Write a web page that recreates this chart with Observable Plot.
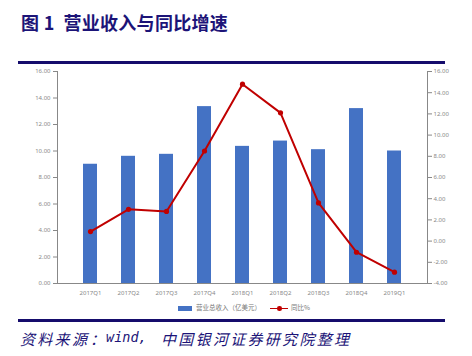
<!DOCTYPE html>
<html><head><meta charset="utf-8">
<script src="https://cdn.jsdelivr.net/npm/d3@7"></script>
<script src="https://cdn.jsdelivr.net/npm/@observablehq/plot@0.6"></script>
<style>
body{margin:0;background:#fff;}
#wrap{position:relative;width:472px;height:356px;overflow:hidden;background:#fff;font-family:"Noto Sans CJK SC","Noto Sans",sans-serif;}
#title{position:absolute;left:21px;top:9px;font-size:18px;font-weight:bold;color:#1c1478;letter-spacing:0.3px;white-space:nowrap;}
.hr{position:absolute;left:18px;width:427px;height:3px;background:#150c6c;}
#chart{position:absolute;left:0;top:62px;width:472px;}
#legend{position:absolute;top:302px;left:0;width:472px;height:12px;font-size:6.5px;color:#777;}
.cap{position:absolute;top:328px;font-size:15px;font-style:italic;color:#1c1478;white-space:nowrap;letter-spacing:2.3px;}
.cap.m{font-family:"DejaVu Sans Mono",monospace;font-size:13.5px;letter-spacing:0;top:329px;}
</style></head>
<body><div id="wrap">
<div id="title">图 1&nbsp; 营业收入与同比增速</div>
<div class="hr" style="top:61px"></div>
<div id="chart"></div>
<div id="legend">
  <div style="position:absolute;left:178px;top:4px;width:14px;height:5px;background:#4472C4"></div>
  <div style="position:absolute;left:196px;top:0px;white-space:nowrap">营业总收入（亿美元）</div>
  <div style="position:absolute;left:270px;top:5.5px;width:18px;height:1.6px;background:#C00000"></div>
  <div style="position:absolute;left:277px;top:4px;width:4.5px;height:4.5px;border-radius:50%;background:#C00000"></div>
  <div style="position:absolute;left:291px;top:0px;white-space:nowrap">同比%</div>
</div>
<div class="hr" style="top:319px"></div>
<div class="cap" style="left:20px">资料来源</div>
<div class="cap" style="left:90px;letter-spacing:0">：</div>
<div class="cap m" style="left:106px">wind,</div>
<div class="cap" style="left:161px">中国银河证券研究院整理</div>
</div>
<script>
const quarters = ["2017Q1","2017Q2","2017Q3","2017Q4","2018Q1","2018Q2","2018Q3","2018Q4","2019Q1"];
const revenue = [9.0, 9.6, 9.75, 13.35, 10.35, 10.75, 10.1, 13.2, 10.0];
const yoy = [0.9, 3.0, 2.8, 8.5, 14.8, 12.1, 3.6, -1.05, -2.93];
const leftTicks = [0,2,4,6,8,10,12,14,16];
const rightTicks = [-4,-2,0,2,4,6,8,10,12,14,16];

const data = quarters.map((q,i)=>({q, rev: revenue[i], yoy: yoy[i]}));
const toLeft = v => (v + 4) * 16 / 20;
const fromLeft = d => d * 20 / 16 - 4;
const gray = "#888";

const plot = Plot.plot({
  width: 472, height: 240,
  marginLeft: 57, marginRight: 45, marginTop: 9, marginBottom: 19,
  style: {fontFamily: "Noto Sans, sans-serif", background: "transparent"},
  x: {domain: quarters, padding: 0.63, axis: null},
  y: {domain: [0,16], axis: null},
  marks: [
    Plot.barY(data, {x: "q", y: "rev", fill: "#4472C4"}),
    Plot.axisY({anchor: "left", ticks: leftTicks, tickFormat: d => d.toFixed(2), tickSize: 4, tickPadding: 3, fontSize: 6, color: gray, stroke: "#888", label: null}),
    Plot.axisY({anchor: "right", ticks: rightTicks.map(toLeft), tickFormat: d => fromLeft(d).toFixed(2), tickSize: 4, tickPadding: 2, fontSize: 6, color: gray, stroke: "#888", label: null}),
    Plot.axisX({anchor: "bottom", tickSize: 0, tickPadding: 7, fontSize: 6, color: gray, label: null}),
    Plot.frame({anchor: "left", stroke: "#888"}),
    Plot.frame({anchor: "right", stroke: "#888"}),
    Plot.frame({anchor: "bottom", stroke: "#888"}),
    Plot.line(data, {x: "q", y: d => toLeft(d.yoy), stroke: "#C00000", strokeWidth: 2}),
    Plot.dot(data, {x: "q", y: d => toLeft(d.yoy), fill: "#C00000", r: 2.6})
  ]
});
document.getElementById("chart").appendChild(plot);
</script>
</body></html>
